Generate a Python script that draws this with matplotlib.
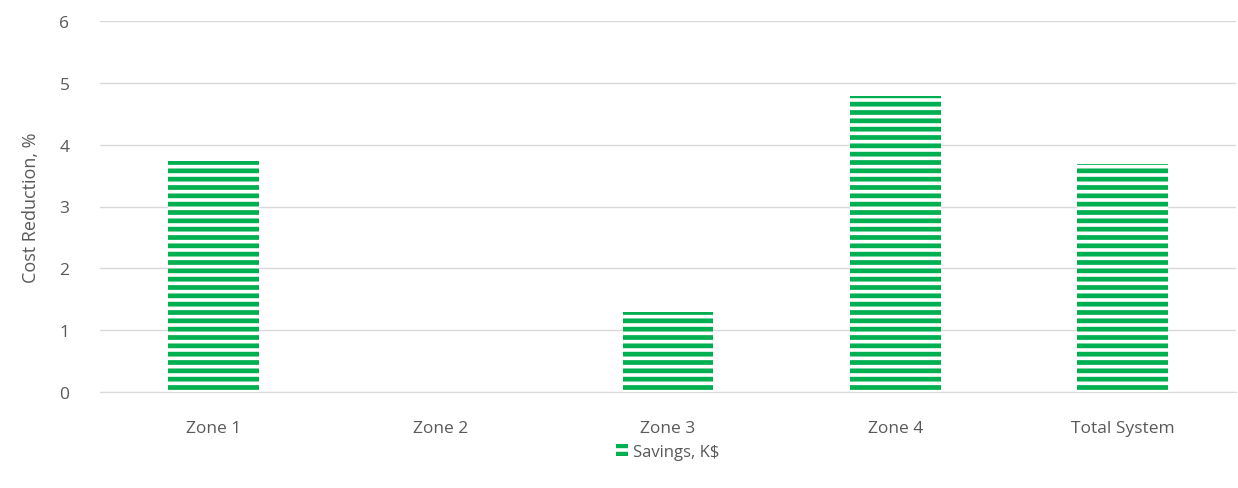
import matplotlib.pyplot as plt
import numpy as np

categories = ["Zone 1", "Zone 2", "Zone 3", "Zone 4", "Total System"]
savings = [3.74, 0.0, 1.29, 4.79, 3.69]
yticks = [0, 1, 2, 3, 4, 5, 6]

green = "#00b050"
grey = "#595959"

plt.rcParams['font.family'] = ['Open Sans', 'DejaVu Sans']
plt.rcParams['hatch.linewidth'] = 3.4

fig = plt.figure(figsize=(12.38, 4.89), dpi=100)
ax = fig.add_axes([100 / 1238, 1 - 393 / 489, 1136 / 1238, 371 / 489])
ax.set_axisbelow(True)

x = np.arange(len(categories))
ax.bar(x, savings, width=0.4, facecolor="white", edgecolor=green, hatch="--",
       linewidth=0, label="Savings, K$", zorder=3)

ax.set_xlim(-0.5, len(categories) - 0.5)
ax.set_ylim(0, 6)
ax.set_yticks(yticks)
ax.set_xticks(x)
ax.set_xticklabels(categories)
ax.grid(axis="y", color="#d9d9d9", linewidth=1)
for s in ["top", "right", "left"]:
    ax.spines[s].set_visible(False)
ax.spines["bottom"].set_color("#d9d9d9")
ax.tick_params(length=0, colors=grey, labelsize=12.5)
ax.tick_params(axis="x", pad=20)
ax.tick_params(axis="y", pad=22)
ax.set_ylabel("Cost Reduction, %", color=grey, fontsize=13, labelpad=14)

ax.legend(loc="upper center", bbox_to_anchor=(0.5, -0.1), frameon=False,
          fontsize=12, labelcolor=grey, handlelength=0.7, handleheight=0.7,
          handletextpad=0.3)

fig.savefig("out.png", dpi=100)
